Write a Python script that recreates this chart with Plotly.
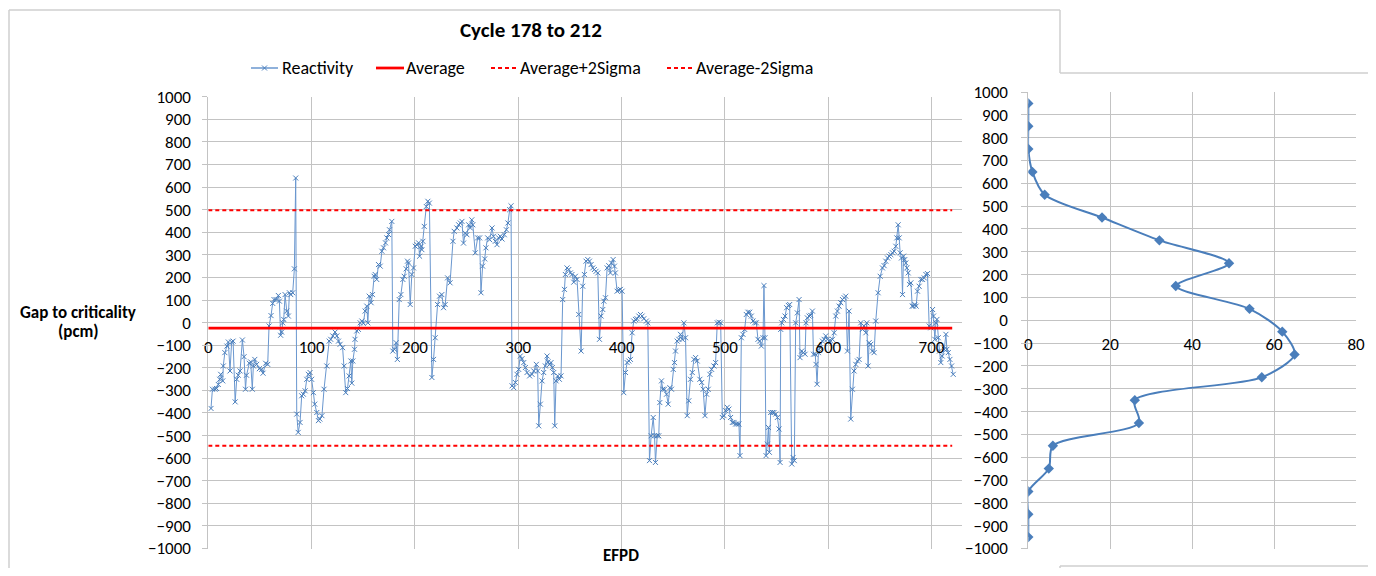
import plotly.graph_objects as go

# ---------------- data ----------------
efpd = [2.6, 4, 6.5, 8, 9.7, 11, 12, 14, 14.5, 16, 18, 19.4, 21, 22.6, 24, 26, 27.5, 29, 30.7, 33,
        34.6, 36, 37, 39.7, 41, 42.6, 43.6, 45, 46.8, 49.4, 51.7, 53, 55.5, 57.5, 58.8, 60.7, 62.3,
        63.6, 65.6, 67.8, 68.8, 70, 71, 72, 73, 74.3, 75.9, 77.5, 78.5, 79.8, 81.7, 83.3, 84.6, 85.6,
        87, 88.8, 90.4, 92, 93.7, 95.3, 96.9, 98.5, 100, 101.7, 103, 105, 106.6, 108, 110, 112, 114.7,
        117, 118.5, 120.5, 122.7, 124.4, 126, 127.6, 130, 131.5, 133, 134.7, 136.3, 138, 138.9, 139.9,
        141.5, 142, 143.7, 145.3, 147, 148.6, 150, 151.8, 153.4, 154.4, 155.7, 157.6, 158.9, 160.5,
        161.5, 163, 164.7, 166.4, 168, 169.6, 171.5, 172.8, 174.4, 175.4, 177.6, 178.6, 180.2, 181.8,
        183, 184.8, 186.4, 188.3, 189.6, 191.5, 192.8, 193.8, 195.4, 197, 198.6, 200.3, 201.9, 203.5,
        204.5, 206, 206.7, 207.7, 209, 211, 212.5, 214, 216.4, 218, 219.6, 221.9, 223.8, 226,
        227.7, 229.3, 231.6, 234, 236.8, 238, 240.6, 242.3, 243.9, 245.5, 247, 248.7, 250.3, 252,
        253.6, 255, 256, 258.4, 260.7, 262.6, 263.9, 265.5, 267.5, 268.7, 270.4, 272.3, 274.6, 276,
        277.8, 279.4, 281, 282.6, 284.3, 286.5, 288.5, 290, 291.7, 293, 294, 295.6, 297.2, 298.8,
        300.4, 302, 303.6, 305.3, 306.9, 308.5, 311, 313.3, 315, 317.5, 318.8, 319.8, 321.4, 323,
        324.6, 326.2, 327.9, 328.8, 330.4, 331.7, 333, 334.3, 335.3, 336.6, 338.2, 339.8, 341.4, 343,
        344.7, 345.6, 347.2, 348.9, 350.5, 352, 353.7, 355.3, 356.9, 358.5, 360.8, 362.4, 364, 365.6,
        367.3, 368.9, 370.5, 372.1, 373.7, 375.3, 377, 378.6, 380.2, 381.8, 382.8, 384.4, 386, 387.6,
        389.2, 390.2, 391.8, 393.1, 394, 395.7, 397.3, 398.9, 400.5, 402.1, 403.8, 405.4, 407, 408.6,
        410.2, 411.8, 413.5, 415, 416.7, 418.3, 419.9, 421.5, 424, 425.4, 427, 428.6, 430.6, 431.9,
        432.8, 434.5, 436, 437, 438.6, 439.9, 441.5, 443.5, 445.1, 446.7, 448.3, 450, 451.2, 452.2,
        453.8, 455.4, 457, 458.7, 460.3, 461.9, 463.5, 465.1, 466.7, 468.4, 470, 471.6, 473.2,
        475.8, 477.5, 479, 480.7, 482.3, 483.9, 485.5, 487.1, 489.4, 491, 492.6, 494.2, 495.9, 497.5,
        499.1, 500.7, 502.3, 503.9, 505.5, 507.2, 508.8, 510.4, 512, 513.6, 514.6, 515.9, 517.5,
        519.1, 520.7, 522.3, 524, 525.6, 527.2, 528.8, 530.4, 532, 533.6, 535.3, 536.9, 537.8, 538.8,
        539.8, 541.1, 542.1, 543, 544.3, 546, 547.5, 549.2, 550.8, 552.4, 553.4, 554, 555, 556.6,
        558.2, 559.8, 561.4, 562.7, 564.7, 566, 567.2, 568.5, 570.1, 571.8, 572.7, 574.3, 576, 577.6,
        578.5, 579.8, 581.4, 583, 584.7, 585.7, 587.3, 588.2, 589.2, 590.5, 592.1, 594.4, 596, 597.6,
        599.2, 600.8, 602.5, 604.1, 605.7, 607.3, 608.9, 610.5, 612.1, 613.8, 615.4, 617, 618.6,
        620.2, 621.8, 623.4, 625, 626.7, 628.3, 629.9, 631.5, 633.1, 634.7, 636.4, 637.3, 638.6,
        639.6, 641.2, 642.8, 644.4, 646, 648.3, 650.3, 652.5, 654.1, 655.7, 657.4, 659, 660.6, 662.2,
        663.8, 665.4, 666.4, 667.7, 668.7, 669.6, 670.9, 671.9, 672.9, 674.1, 675.1, 676.1, 677.4,
        678.7, 680, 681.3, 682.5, 683.8, 685.1, 686.4, 688, 689.7, 691.3, 692.9, 694.5, 696.1, 697.7,
        699.3, 701, 701.9, 703.2, 704.2, 705.2, 706.5, 707.7, 709, 710.3, 712.3, 713.9, 714.9, 716.2,
        717.8, 719.4, 721]

reactivity = [-380, -295, -295, -292, -274, -251, -229, -258, -192, -133, -104, -86, -214, -86, -82,
              -351, -251, -233, -214, -77, -151, -295, -233, -180, -174, -295, -192, -163, -185, -204,
              -207, -224, -180, -185, -15, 31, 85, 102, 102, 120, 95, -56, -42, -1, 14, 124, 51, 29,
              132, 124, 132, 238, 640, -405, -486, -442, -324, -317, -302, -251, -229, -221, -251,
              -310, -361, -398, -434, -427, -412, -295, -192, -82, -74, -59, -42, -59, -82, -96, -111,
              -192, -310, -292, -236, -170, -268, -170, -118, -74, -37, -30, -1, 7, -3, 51, 73, -1,
              117, 88, 124, 205, 213, 191, 257, 250, 316, 331, 353, 375, 390, 411, 448, -126, -118,
              -89, -163, 102, 124, 191, 205, 238, 272, 264, 80, 213, 242, 338, 345, 353, 294, 338,
              323, 360, 426, 514, 537, 529, -243, -163, -67, 80, 117, 124,
              66, 80, 198, 176, 360, 404, 419, 433, 441, 448, 352, 396, 389, 433, 419, 455, 433, 309,
              375, 375, 132, 250, 282, 331, 375, 367, 419, 382, 360, 345, 375, 382, 370, 389, 411, 441,
              500, 517, -280, -288, -265, -229, -207, -148, -160, -177, -199, -221, -236, -229, -214,
              -185, -214, -457, -361, -258, -221, -192, -148, -174, -185, -177, -199, -221, -457, -258,
              -236, -251, -236, 102, 147, 213, 242, 235, 220, 213, 179, 205, 191, 36, -126, 161, 213,
              272, 279, 272, 257, 242, 235, 227, 220, -74, 29, 58, 95, 110, 242, 252, 220, 264, 279,
              250, 220, 139, 144, 147, 139, -310, -221, -177, -170, -163, -45, 7, 14, 17, 29, 36, 29,
              17, 7, -1, -611, -501, -420, -501, -619, -501, -501, -354, -258, -295, -295, -317, -361,
              -288, -295, -207, -177, -126, -82, -74, -52, -74, -1, -67, -412, -346, -251, -221, -163,
              -155, -170,
              -251, -265, -295, -412, -317, -295, -229, -207, -192, -177, -1, 2, -1, -420, -412, -390,
              -375, -383, -420, -442, -442, -449, -449, -449, -589, -67, -52, -30, 36, 46, 46, 29, 7,
              -1, -1, -74, -82, -104, -67, 164, -67, -589, -538, -464, -574, -398, -398, -398, -405,
              -420, -471, -619, -30, -1, 14, 29, 66, 76, 80, -626, -597, -611, -1, 43, 102, -155, -126,
              -133, -140, -1, 21, 29, 32, 51, -140, -140, -185, -273, -133, -111, -82, -74, -59, -74,
              -82, -82, -74, -45, 29, 51, 73, 88, 102, 110, 117, -126, 51, -427, -295, -214, -185,
              -170, -163, -1, -30, -15, -45, -1, -192, -89, -96, -126, -133, 7, 132, 205, 242, 252,
              272, 286, 294, 301, 309, 316, 338, 375, 433, 375, 309, 286, 124, 294, 279, 264, 242,
              220, 169, 176, 73, 73, 80, 73, 139, 161, 191, 191, 198, 213, 217, -15, -23, 58, 29, -74,
              -1, 14, -67, -126, -177, -148, -118, -52, -118, -133, -163, -192, -229]

avg_x = [0, 720]
average = -24
average_plus_2sigma = 497
average_minus_2sigma = -545

bin_centers = [950, 850, 750, 650, 550, 450, 350, 250, 150, 50, -50, -150, -250, -350, -450,
               -550, -650, -750, -850, -950]
bin_counts = [0, 0, 0, 1, 4, 18, 32, 49, 36, 54, 62, 65, 57, 26, 27, 6, 5, 0, 0, 0]

main_y_ticks = list(range(-1000, 1001, 100))
main_x_ticks = list(range(0, 701, 100))
side_x_ticks = [0, 20, 40, 60, 80]

legend_names = ["Reactivity", "Average", "Average+2Sigma", "Average-2Sigma"]

# ---------------- layout helpers ----------------
# The page body has an 8px margin, so the figure is sized to fit the
# 1376x576 window exactly and page-pixel positions are mapped into it.
OFF = 8
W, H = 1376 - 2 * OFF, 576 - 2 * OFF
FONT = "Carlito, Calibri, Lato, sans-serif"
GRID = "#c3c3c3"
BLUE = "#4a7ebb"
LINE_BLUE = "#6a97cf"
RED = "#ff0000"
DASH = "4px,3px"


def px(x):
    return (x - OFF) / W


def py(y):
    return 1 - (y - OFF) / H


main_dom_x = [px(208.3), px(961.5)]
main_dom_y = [py(548.5), py(96.7)]
side_dom_x = [px(1028.3), px(1356)]
side_dom_y = [py(548.5), py(92)]

fig = go.Figure()

fig.add_trace(go.Scatter(
    x=efpd, y=reactivity, name=legend_names[0], mode="lines+markers",
    line=dict(color=LINE_BLUE, width=1),
    marker=dict(symbol="x-thin", size=5, line=dict(color=BLUE, width=1), color=BLUE),
    xaxis="x", yaxis="y", showlegend=False))
fig.add_trace(go.Scatter(
    x=avg_x, y=[average] * len(avg_x), name=legend_names[1], mode="lines",
    line=dict(color=RED, width=2.75), xaxis="x", yaxis="y", showlegend=False))
fig.add_trace(go.Scatter(
    x=avg_x, y=[average_plus_2sigma] * len(avg_x), name=legend_names[2], mode="lines",
    line=dict(color=RED, width=2, dash=DASH), xaxis="x", yaxis="y", showlegend=False))
fig.add_trace(go.Scatter(
    x=avg_x, y=[average_minus_2sigma] * len(avg_x), name=legend_names[3], mode="lines",
    line=dict(color=RED, width=2, dash=DASH), xaxis="x", yaxis="y", showlegend=False))

fig.add_trace(go.Scatter(
    x=bin_counts, y=bin_centers, mode="lines+markers", showlegend=False,
    line=dict(color=BLUE, width=2, shape="spline", smoothing=0.8),
    marker=dict(symbol="diamond", size=8, color=BLUE),
    xaxis="x2", yaxis="y2"))

tick_font = dict(family=FONT, size=17, color="#000000")

fig.update_layout(
    width=W, height=H,
    margin=dict(l=0, r=0, t=0, b=0, autoexpand=False),
    paper_bgcolor="white", plot_bgcolor="rgba(0,0,0,0)",
    font=dict(family=FONT, color="#000000"),
    showlegend=False,
    xaxis=dict(domain=main_dom_x, range=[0, 729], anchor="free",
               position=(main_dom_y[0] + main_dom_y[1]) / 2,
               tickvals=main_x_ticks, ticks="", ticklabelstandoff=12,
               showgrid=True, gridcolor=GRID, gridwidth=1, zeroline=False,
               showline=False, tickfont=tick_font, automargin=False),
    yaxis=dict(domain=main_dom_y, range=[-1000, 1000], anchor="x",
               tickvals=main_y_ticks, ticks="outside", ticklen=5, tickcolor=GRID,
               ticklabelstandoff=8,
               showgrid=True, gridcolor=GRID, gridwidth=1, zeroline=False,
               showline=True, linecolor=GRID, tickfont=tick_font, automargin=False),
    xaxis2=dict(domain=side_dom_x, range=[0, 80], anchor="free",
                position=(side_dom_y[0] + side_dom_y[1]) / 2,
                tickvals=side_x_ticks, ticks="", ticklabelstandoff=12,
                showgrid=True, gridcolor=GRID, gridwidth=1, zeroline=False,
                showline=False, tickfont=tick_font, automargin=False),
    yaxis2=dict(domain=side_dom_y, range=[-1000, 1000], anchor="x2",
                tickvals=main_y_ticks, ticks="outside", ticklen=6, tickcolor=GRID,
                ticklabelstandoff=10,
                showgrid=True, gridcolor=GRID, gridwidth=1, zeroline=False,
                showline=True, linecolor=GRID, tickfont=tick_font, automargin=False),
)

# ---------------- texts ----------------
annotations = [
    dict(text="<b>Cycle 178 to 212</b>", x=px(531), y=py(30), xanchor="center",
         font=dict(family=FONT, size=21)),
    dict(text="<b>Gap to criticality</b>", x=px(78), y=py(312), xanchor="center",
         font=dict(family=FONT, size=17)),
    dict(text="<b>(pcm)</b>", x=px(78), y=py(331), xanchor="center",
         font=dict(family=FONT, size=17)),
    dict(text="<b>EFPD</b>", x=px(621), y=py(555), xanchor="center",
         font=dict(family=FONT, size=17)),
]

# custom legend: (sample start, sample end, text start)
LEG_Y = 68
legend_slots = [(251, 278, 280), (376, 404, 404), (491, 519, 518), (667, 695, 694)]
legend_styles = [dict(color=LINE_BLUE, width=1.5), dict(color=RED, width=2.75),
                 dict(color=RED, width=2, dash=DASH), dict(color=RED, width=2, dash=DASH)]
shapes = []
for name, (s0, s1, t0), st in zip(legend_names, legend_slots, legend_styles):
    shapes.append(dict(type="line", xref="paper", yref="paper",
                       x0=px(s0), y0=py(LEG_Y), x1=px(s1), y1=py(LEG_Y), line=st))
    annotations.append(dict(text=name, x=px(t0), y=py(LEG_Y), xanchor="left",
                            font=dict(family=FONT, size=18)))
# small x marker on the Reactivity legend sample
mx = (legend_slots[0][0] + legend_slots[0][1]) / 2
for dx0, dy0, dx1, dy1 in [(-2.5, -2.5, 2.5, 2.5), (-2.5, 2.5, 2.5, -2.5)]:
    shapes.append(dict(type="line", xref="paper", yref="paper",
                       x0=px(mx + dx0), y0=py(LEG_Y + dy0), x1=px(mx + dx1), y1=py(LEG_Y + dy1),
                       line=dict(color=BLUE, width=1)))

for a in annotations:
    a.update(xref="paper", yref="paper", showarrow=False, yanchor="middle")

BORDER = "#cfcfcf"
frame_segments = [
    (9, 10, 1060, 10),
    (9, 10, 9, 576),
    (1060, 10, 1060, 73),
    (1060, 73, 1376, 73),
    (1060, 566, 1376, 566),
    (1060, 566, 1060, 576),
]
for x0, y0, x1, y1 in frame_segments:
    shapes.append(dict(type="line", xref="paper", yref="paper",
                       x0=px(x0), y0=py(y0), x1=px(x1), y1=py(y1),
                       line=dict(color=BORDER, width=1.5)))

fig.update_layout(annotations=annotations, shapes=shapes)

fig.write_html("out.html")
